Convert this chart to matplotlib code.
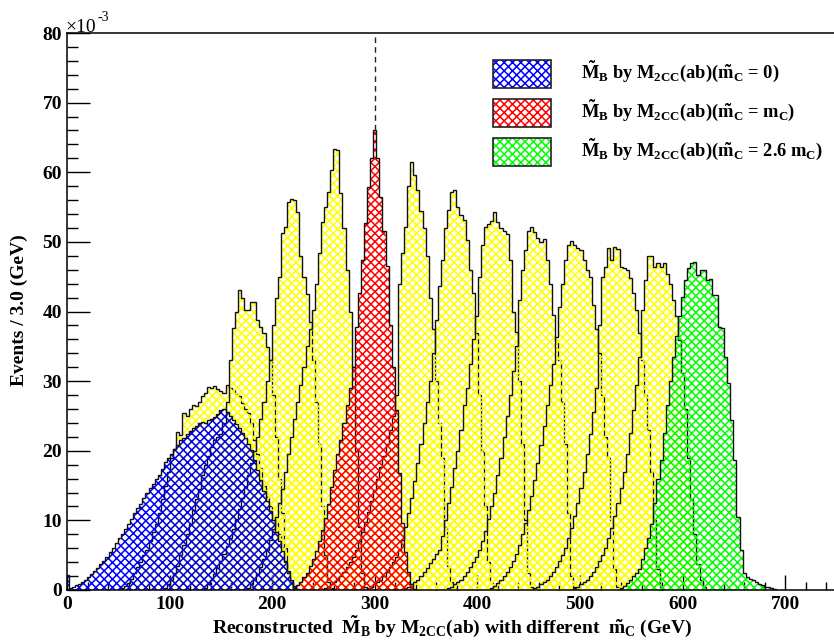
import numpy as np
import matplotlib
matplotlib.use("Agg")
import matplotlib.pyplot as plt
from matplotlib.patches import Rectangle
from matplotlib.ticker import MultipleLocator

# ---- data: bin contents (x10^-3) of the M~B histograms, 3 GeV bins ----
bin_width = 3.0
true_mass = 300.0

# m~C = 0 (blue)
h00_start = 0
h00_values = [2.2, 0.3, 0.5, 0.7, 0.9, 1.1, 1.5, 1.9, 2.3, 2.8, 3.2,
              3.7, 4.2, 4.8, 5.4, 6.0, 6.7, 7.4, 8.0, 8.8, 9.5,
              10.2, 11.0, 11.8, 12.4, 13.2, 14.0, 14.6, 15.2, 15.9, 16.5,
              17.4, 18.4, 19.0, 19.5, 20.2, 20.8, 21.5, 21.9, 22.4, 22.9,
              23.2, 23.6, 24.0, 24.2, 24.0, 24.4, 24.6, 24.9, 25.3, 25.8,
              26.0, 25.6, 25.0, 24.4, 23.8, 23.2, 22.5, 21.8, 21.0, 20.1,
              18.6, 17.2, 15.8, 14.2, 12.8, 11.4, 10.0, 8.4, 7.0, 5.6,
              4.2, 2.8, 1.4, 0.6, 0.2]

# m~C = 0.2 mC
h02_start = 54
h02_values = [0.3, 0.6, 1.0, 1.6, 2.5, 3.3, 4.0, 5.0, 5.8, 7.0,
              8.3, 9.5, 11.0, 13.0, 15.0, 17.0, 19.0, 20.3, 22.7, 22.3,
              25.4, 25.0, 26.0, 26.6, 26.4, 27.0, 27.8, 28.3, 29.2, 29.0,
              29.3, 28.8, 28.6, 28.3, 29.4, 29.0, 28.7, 28.2, 27.8, 26.8,
              26.0, 25.4, 24.0, 21.6, 19.5, 17.5, 15.0, 13.4, 12.0, 10.5,
              9.6, 8.0, 6.0, 4.0, 2.5, 1.0, 0.3]

# m~C = 0.4 mC
h04_start = 96
h04_values = [0.3, 0.8, 1.5, 2.5, 3.5, 5.0, 6.5, 8.0, 9.5, 11.5,
              13.0, 14.5, 16.5, 18.0, 19.3, 20.5, 21.5, 22.0, 22.4, 24.0,
              27.0, 33.0, 37.6, 40.0, 43.1, 42.0, 40.2, 40.2, 41.4, 41.3,
              38.8, 37.8, 36.9, 34.9, 33.0, 28.0, 22.0, 16.0, 11.0, 6.0,
              2.5, 0.8]

# m~C = 0.6 mC
h06_start = 135
h06_values = [0.3, 0.8, 1.5, 2.3, 3.2, 4.2, 5.2, 6.3, 7.5, 8.8,
              10.2, 11.6, 13.2, 14.8, 16.5, 18.2, 20.0, 22.0, 24.5, 27.0,
              30.0, 33.0, 38.0, 42.0, 45.0, 51.3, 52.2, 55.7, 56.2, 56.0,
              54.3, 48.0, 45.0, 42.5, 38.5, 33.0, 27.0, 21.0, 12.0, 5.0,
              1.2, 0.3]

# m~C = 0.8 mC
h08_start = 177
h08_values = [0.3, 0.8, 1.5, 2.3, 3.3, 4.5, 5.8, 7.2, 8.8, 10.5,
              12.5, 14.5, 17.0, 19.5, 22.0, 24.5, 27.0, 29.5, 32.0, 35.0,
              37.5, 40.2, 44.0, 48.4, 52.9, 55.0, 57.2, 60.3, 63.4, 63.2,
              57.0, 52.0, 46.0, 40.0, 32.0, 20.0, 9.0, 2.5, 0.5]

# m~C = mC (red)
h10_start = 222
h10_values = [0.3, 0.7, 1.2, 1.8, 2.5, 3.4, 4.4, 5.6, 7.0, 8.6,
              10.3, 12.3, 14.8, 17.2, 19.5, 21.5, 24.0, 26.5, 29.0, 32.0,
              37.8, 42.7, 47.4, 52.7, 57.9, 62.0, 66.1, 62.0, 56.5, 51.5,
              46.5, 38.0, 32.0, 25.9, 16.8, 9.6, 5.5, 2.6, 0.8, 0.2]

# m~C = 1.2 mC
h12_start = 252
h12_values = [0.3, 0.5, 0.8, 1.1, 1.5, 2.0, 2.6, 3.3, 4.0, 4.8,
              5.8, 7.0, 8.3, 9.7, 11.2, 12.8, 14.4, 16.0, 17.6, 19.2,
              21.0, 23.0, 25.0, 28.0, 44.0, 48.4, 52.2, 58.0, 61.5, 59.6,
              57.5, 54.5, 52.0, 48.0, 42.0, 37.5, 30.0, 24.0, 19.0, 9.0,
              3.5, 1.2, 0.3]

# m~C = 1.4 mC
h14_start = 294
h14_values = [0.3, 0.5, 0.8, 1.1, 1.5, 2.0, 2.6, 3.3, 4.0, 4.8,
              5.8, 7.2, 9.0, 11.0, 13.2, 15.6, 18.2, 21.0, 24.0, 27.0,
              30.0, 34.0, 38.8, 43.6, 47.4, 52.0, 54.6, 57.2, 57.5, 55.0,
              53.9, 53.2, 50.3, 46.0, 42.7, 36.9, 28.0, 20.0, 12.0, 4.0,
              1.0, 0.3]

# m~C = 1.6 mC
h16_start = 330
h16_values = [0.3, 0.5, 0.8, 1.1, 1.5, 2.0, 2.6, 3.2, 3.9, 4.5,
              5.1, 5.7, 7.8, 10.0, 12.5, 14.8, 17.5, 20.0, 23.0, 26.5,
              29.0, 32.5, 36.0, 39.3, 45.0, 49.5, 52.2, 52.6, 53.0, 54.3,
              52.9, 52.0, 51.6, 51.2, 47.4, 40.0, 37.0, 30.0, 21.0, 10.0,
              2.5, 0.5]

# m~C = 1.8 mC
h18_start = 372
h18_values = [0.3, 0.5, 0.8, 1.1, 1.5, 2.0, 2.6, 3.3, 4.0, 4.8,
              5.8, 7.0, 8.5, 10.2, 12.0, 14.0, 16.5, 19.0, 22.0, 25.0,
              28.0, 31.5, 35.0, 41.7, 46.0, 48.8, 51.5, 52.2, 51.4, 50.6,
              50.0, 50.4, 47.4, 44.0, 39.5, 35.9, 33.0, 27.0, 21.0, 11.0,
              2.0, 0.5]

# m~C = 2.0 mC
h20_start = 414
h20_values = [0.3, 0.6, 1.0, 1.5, 2.0, 2.6, 3.3, 4.2, 5.2, 6.5,
              8.0, 9.6, 11.5, 13.5, 15.8, 18.2, 20.8, 23.5, 26.5, 29.5,
              32.5, 36.4, 40.7, 44.0, 47.4, 49.5, 50.1, 49.6, 49.1, 48.9,
              47.4, 46.0, 45.0, 41.0, 37.5, 34.0, 28.0, 22.0, 19.0, 10.0,
              3.0, 0.5]

# m~C = 2.2 mC
h22_start = 456
h22_values = [0.3, 0.5, 0.8, 1.1, 1.5, 2.0, 2.6, 3.3, 4.1, 5.0,
              6.1, 7.4, 8.9, 10.6, 12.5, 14.6, 17.0, 19.6, 22.4, 25.5,
              29.0, 38.0, 45.0, 46.4, 49.1, 47.4, 49.3, 49.0, 46.4, 46.2,
              45.9, 44.8, 42.7, 40.2, 36.9, 33.0, 28.0, 23.0, 17.0, 10.0,
              3.0, 0.5]

# m~C = 2.4 mC
h24_start = 495
h24_values = [0.3, 0.5, 0.8, 1.1, 1.5, 2.0, 2.6, 3.3, 4.1, 5.0,
              6.1, 7.4, 8.9, 10.6, 12.5, 14.6, 17.0, 19.6, 22.5, 25.8,
              29.5, 33.5, 40.2, 44.5, 47.9, 48.0, 46.4, 47.0, 46.4, 46.9,
              45.4, 44.0, 41.7, 39.3, 35.9, 31.2, 26.0, 19.0, 13.0, 8.0,
              3.8, 1.5, 0.4]

# m~C = 2.6 mC (green)
h26_start = 540
h26_values = [0.3, 0.6, 1.0, 1.5, 2.0, 2.5, 3.0, 4.5, 6.0, 7.5,
              9.5, 12.5, 16.0, 18.7, 22.5, 26.5, 30.0, 33.5, 36.5, 39.3,
              42.1, 44.5, 46.2, 47.0, 47.1, 45.3, 46.0, 46.0, 44.5, 44.6,
              42.4, 42.3, 37.8, 37.7, 33.5, 29.7, 24.4, 18.7, 10.5, 5.7,
              2.4, 1.9, 1.6, 1.4, 1.2, 0.9, 0.7, 0.5, 0.4, 0.3,
              0.2]

legend_labels = [
    r"$\tilde{M}_{B}$ by $M_{2CC}$(ab)($\tilde{m}_{C}$ = 0)",
    r"$\tilde{M}_{B}$ by $M_{2CC}$(ab)($\tilde{m}_{C}$ = $m_{C}$)",
    r"$\tilde{M}_{B}$ by $M_{2CC}$(ab)($\tilde{m}_{C}$ = 2.6 $m_{C}$)",
]

# ---- style ----
plt.rcParams["font.family"] = "Liberation Serif"
plt.rcParams["font.weight"] = "bold"
plt.rcParams["mathtext.fontset"] = "custom"
plt.rcParams["mathtext.rm"] = "Liberation Serif:bold"
plt.rcParams["mathtext.it"] = "Liberation Serif:bold"
plt.rcParams["mathtext.bf"] = "Liberation Serif:bold"
plt.rcParams["hatch.linewidth"] = 1.1

YELLOW = "#ffff00"
BLUE = "#0000ff"
RED = "#ff0000"
GREEN = "#00ff00"
HATCH = "xxxx"
FS = 14


def bin_edges(start, values):
    return start - bin_width / 2 + bin_width * np.arange(len(values) + 1)


def draw_hist(ax, start, values, color):
    edges = bin_edges(start, values)
    ax.stairs(values, edges, fill=True, facecolor="none", edgecolor=color,
              hatch=HATCH, linewidth=0)
    ax.stairs(values, edges, baseline=0, color="#111111", linewidth=1.0)


fig = plt.figure(figsize=(8.34, 6.42), dpi=100)
ax = fig.add_axes([67 / 834, 52 / 642, 769.5 / 834, 557 / 642])

yellow_hists = [(h02_start, h02_values), (h04_start, h04_values),
                (h06_start, h06_values), (h08_start, h08_values),
                (h12_start, h12_values), (h14_start, h14_values),
                (h16_start, h16_values), (h18_start, h18_values),
                (h20_start, h20_values), (h22_start, h22_values),
                (h24_start, h24_values)]

for start, values in yellow_hists:
    draw_hist(ax, start, values, YELLOW)

draw_hist(ax, h00_start, h00_values, BLUE)
draw_hist(ax, h10_start, h10_values, RED)
draw_hist(ax, h26_start, h26_values, GREEN)

ax.vlines(true_mass, max(h10_values), 80, colors="#222222", linewidth=1.0,
          linestyles=(0, (4, 3)))

ax.set_xlim(0, 750)
ax.set_ylim(0, 80)
ax.set_axisbelow(True)

ax.xaxis.set_major_locator(MultipleLocator(100))
ax.xaxis.set_minor_locator(MultipleLocator(20))
ax.yaxis.set_major_locator(MultipleLocator(10))
ax.yaxis.set_minor_locator(MultipleLocator(2))
ax.tick_params(axis="both", which="both", direction="in", top=False, right=False,
               width=1.0, labelsize=FS)
ax.tick_params(axis="y", which="major", length=16.5, pad=3.5)
ax.tick_params(axis="y", which="minor", length=8)
ax.tick_params(axis="x", which="major", length=11, pad=4)
ax.tick_params(axis="x", which="minor", length=6)
for sp in ax.spines.values():
    sp.set_linewidth(1.1)

# axis titles
fig.text(452 / 834, 9 / 642,
         r"Reconstructed  $\tilde{M}_{B}$ by $M_{2CC}$(ab) with different  $\tilde{m}_{C}$ (GeV)",
         ha="center", va="baseline", fontsize=FS)
fig.text(19 / 834, 332 / 642, "Events / 3.0 (GeV)", rotation=90,
         ha="center", va="center", fontsize=FS)
fig.text(65 / 834, 610 / 642, "\u00d710", fontsize=FS, fontweight="normal",
         ha="left", va="baseline")
fig.text(97 / 834, 621 / 642, "-3", fontsize=10, fontweight="normal",
         ha="left", va="baseline")

# legend
colors = [BLUE, RED, GREEN]
for i, (label, color) in enumerate(zip(legend_labels, colors)):
    y0 = 0.9013 - i * 0.0700
    ax.add_patch(Rectangle((0.5536, y0), 0.0754, 0.0503, transform=ax.transAxes,
                           facecolor="none", edgecolor=color, hatch=HATCH,
                           linewidth=0, zorder=5))
    ax.add_patch(Rectangle((0.5536, y0), 0.0754, 0.0503, transform=ax.transAxes,
                           facecolor="none", edgecolor="#222222",
                           linewidth=1.2, zorder=6))
    ax.text(0.668, y0 + 0.018, label, transform=ax.transAxes, fontsize=13.3,
            ha="left", va="baseline", zorder=6)

fig.savefig("out.png", dpi=100)
